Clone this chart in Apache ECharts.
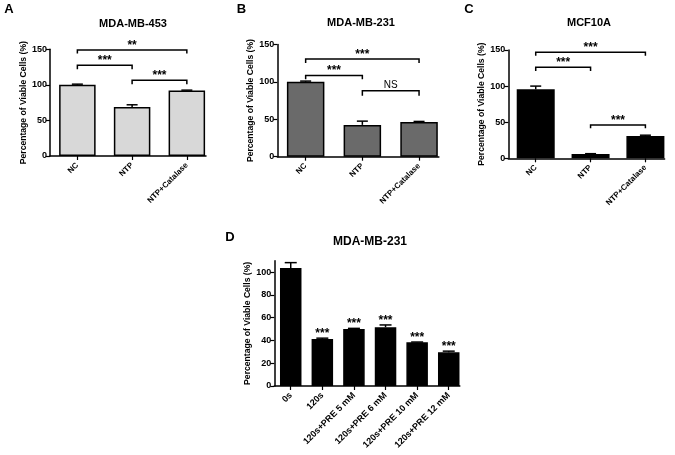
<!DOCTYPE html>
<html>
<head>
<meta charset="utf-8">
<script src="https://cdn.jsdelivr.net/npm/echarts@6/dist/echarts.min.js"></script>
<style>
  html, body { margin: 0; padding: 0; background: #fff; }
  #chart { width: 675px; height: 455px; }
</style>
</head>
<body>
<div id="chart"></div>
<script>
const FONT = 'Liberation Sans, Arial, sans-serif';

// panel A-C categories
const cellCats = ['NC', 'NTP', 'NTP+Catalase'];

// A: MDA-MB-453
const aValues = [100, 69, 92];
const aErrors = [1, 3, 0.6];
const aBrackets = [[0, 2, 149, 144], [0, 1, 127.5, 122], [1, 2, 106.5, 101]];
const aBracketLabels = ['**', '***', '***'];

// B: MDA-MB-231
const bValues = [100, 42.5, 46.5];
const bErrors = [1, 5, 0.6];
const bBrackets = [[0, 2, 130.5, 125], [0, 1, 108.5, 103.5], [1, 2, 88, 81.5]];
const bBracketLabels = ['***', '***', 'NS'];

// C: MCF10A
const cValues = [95.5, 6, 31];
const cErrors = [4.5, 0.4, 1];
const cBrackets = [[0, 2, 147, 142], [0, 1, 126, 121], [1, 2, 46, 41.5]];
const cBracketLabels = ['***', '***', '***'];

// D: MDA-MB-231 pretreatment
const dCats = ['0s', '120s', '120s+PRE 5 mM', '120s+PRE 6 mM', '120s+PRE 10 mM', '120s+PRE 12 mM'];
const dValues = [103.5, 41.3, 50, 51.6, 38.3, 29.6];
const dErrors = [4.8, 0.7, 0.6, 2, 0.3, 1];
const dStars = ['', '***', '***', '***', '***', '***'];

const yTicksABC = [0, 50, 100, 150];
const yTicksD = [0, 20, 40, 60, 80, 100];

const chart = echarts.init(document.getElementById('chart'));

const panels = [
  { grid: { left: 50, top: 49.3, width: 156, height: 106.7 }, cats: cellCats, values: aValues, errors: aErrors,
    brackets: aBrackets, bracketLabels: aBracketLabels, color: '#d8d8d8', barWidth: 36.5, xMax: 2.35, xMin: -0.5,
    yMax: 150, yTicks: yTicksABC, labelSize: 8, title: 'MDA-MB-453', titleX: 133, titleY: 24, letter: 'A', lx: 9, ly: 9 },
  { grid: { left: 277.3, top: 44.4, width: 161.6, height: 112.3 }, cats: cellCats, values: bValues, errors: bErrors,
    brackets: bBrackets, bracketLabels: bBracketLabels, color: '#6a6a6a', barWidth: 37.5, xMax: 2.35, xMin: -0.5,
    yMax: 150, yTicks: yTicksABC, labelSize: 8, title: 'MDA-MB-231', titleX: 361, titleY: 23, letter: 'B', lx: 241.5, ly: 9 },
  { grid: { left: 508.3, top: 50, width: 156.3, height: 108.3 }, cats: cellCats, values: cValues, errors: cErrors,
    brackets: cBrackets, bracketLabels: cBracketLabels, color: '#000', barWidth: 38, xMax: 2.35, xMin: -0.5,
    yMax: 150, yTicks: yTicksABC, labelSize: 8, title: 'MCF10A', titleX: 589, titleY: 23, letter: 'C', lx: 469, ly: 9 },
  { grid: { left: 274.3, top: 260.7, width: 185.5, height: 125.3 }, cats: dCats, values: dValues, errors: dErrors,
    stars: dStars, color: '#000', barWidth: 21.5, xMax: 5.35, xMin: -0.52,
    yMax: 110, yTicks: yTicksD, labelSize: 9, title: 'MDA-MB-231', titleX: 370, titleY: 241.5, letter: 'D', lx: 230, ly: 237 }
];

const grids = [], xAxes = [], yAxes = [], series = [], graphics = [];

panels.forEach((p, gi) => {
  grids.push(p.grid);
  const catIdx = p.cats.map((c, i) => i);
  xAxes.push({
    type: 'value', gridIndex: gi, min: p.xMin, max: p.xMax,
    splitLine: { show: false },
    axisLine: { onZero: false, lineStyle: { color: '#000', width: 1.5 } },
    axisTick: { customValues: catIdx, length: 4, lineStyle: { color: '#000', width: 1.2 } },
    axisLabel: {
      customValues: catIdx, rotate: 45, margin: 8, color: '#000',
      fontFamily: FONT, fontWeight: 'bold', fontSize: p.labelSize,
      formatter: v => p.cats[Math.round(v)]
    }
  });
  yAxes.push({
    type: 'value', gridIndex: gi, min: 0, max: p.yMax,
    name: 'Percentage of Viable Cells (%)', nameLocation: 'middle', nameGap: 22, nameRotate: 90,
    nameTextStyle: { fontFamily: FONT, fontWeight: 'bold', fontSize: 8.6, color: '#000' },
    splitLine: { show: false },
    axisLine: { show: true, onZero: false, lineStyle: { color: '#000', width: 1.5 } },
    axisTick: { show: true, customValues: p.yTicks, length: 4, lineStyle: { color: '#000', width: 1.2 } },
    axisLabel: { customValues: p.yTicks, margin: 3, color: '#000', fontFamily: FONT, fontWeight: 'bold', fontSize: 9 }
  });

  series.push({
    type: 'bar', xAxisIndex: gi, yAxisIndex: gi, barWidth: p.barWidth,
    data: p.values.map((v, i) => [i, v]),
    itemStyle: { color: p.color, borderColor: '#000', borderWidth: 1.5 },
    z: 2
  });

  // error bars (upper only) + significance stars for panel D
  series.push({
    type: 'custom', xAxisIndex: gi, yAxisIndex: gi, clip: false, z: 3,
    data: p.values.map((v, i) => [i, v, p.errors[i]]),
    encode: { x: 0, y: 1 },
    renderItem: (params, api) => {
      const i = api.value(0), v = api.value(1), e = api.value(2);
      const b = api.coord([i, v]);
      const t = api.coord([i, v + e]);
      const cap = gi === 3 ? 6 : 5.5;
      const children = [
        { type: 'line', shape: { x1: b[0], y1: b[1], x2: t[0], y2: t[1] }, style: { stroke: '#000', lineWidth: 1.5 } },
        { type: 'line', shape: { x1: t[0] - cap, y1: t[1], x2: t[0] + cap, y2: t[1] }, style: { stroke: '#000', lineWidth: 1.5 } }
      ];
      if (p.stars && p.stars[params.dataIndex]) {
        const fs = 12;
        children.push({
          type: 'text',
          style: { text: p.stars[params.dataIndex], x: t[0], y: t[1] - 7 + 0.23 * fs, align: 'center', verticalAlign: 'middle',
                   fontFamily: FONT, fontWeight: 'bold', fontSize: fs, fill: '#000' }
        });
      }
      return { type: 'group', children };
    }
  });

  if (p.brackets) {
    series.push({
      type: 'custom', xAxisIndex: gi, yAxisIndex: gi, clip: false, z: 3,
      data: p.brackets,
      encode: { x: 0, y: 2 },
      renderItem: (params, api) => {
        const a = api.coord([api.value(0), api.value(2)]);
        const b = api.coord([api.value(1), api.value(2)]);
        const endY = api.coord([0, api.value(3)])[1];
        const label = p.bracketLabels[params.dataIndex];
        const isStar = label.indexOf('*') >= 0;
        const fs = isStar ? 12 : 10;
        const ty = isStar ? a[1] - 7.5 + 0.23 * fs : a[1] - 6;
        return {
          type: 'group',
          children: [
            { type: 'polyline', shape: { points: [[a[0], endY], [a[0], a[1]], [b[0], b[1]], [b[0], endY]] },
              style: { stroke: '#000', lineWidth: 1.5, fill: null } },
            { type: 'text', style: { text: label, x: (a[0] + b[0]) / 2, y: ty, align: 'center', verticalAlign: 'middle',
              fontFamily: FONT, fontWeight: isStar ? 'bold' : 'normal', fontSize: fs, fill: '#000' } }
          ]
        };
      }
    });
  }

  graphics.push({
    type: 'text', x: p.titleX, y: p.titleY,
    style: { text: p.title, align: 'center', verticalAlign: 'middle', fontFamily: FONT, fontWeight: 'bold',
             fontSize: gi === 3 ? 12 : 11, fill: '#000' }
  });
  graphics.push({
    type: 'text', x: p.lx, y: p.ly,
    style: { text: p.letter, align: 'center', verticalAlign: 'middle', fontFamily: FONT, fontWeight: 'bold', fontSize: 13, fill: '#000' }
  });
});

chart.setOption({
  animation: false,
  backgroundColor: '#fff',
  grid: grids,
  xAxis: xAxes,
  yAxis: yAxes,
  series: series,
  graphic: graphics
});
</script>
</body>
</html>
